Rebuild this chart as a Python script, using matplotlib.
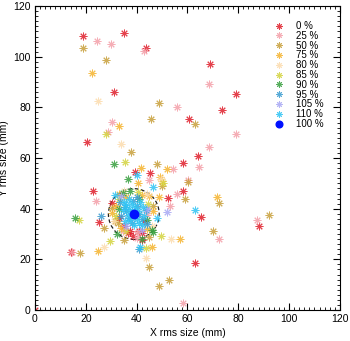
import matplotlib
matplotlib.use("Agg")
import matplotlib.pyplot as plt
from matplotlib.ticker import MultipleLocator
from matplotlib.patches import Circle

plt.rcParams['font.family'] = ['Liberation Sans', 'DejaVu Sans']

labels = ["0 %", "25 %", "50 %", "75 %", "80 %", "85 %", "90 %", "95 %", "105 %", "110 %"]
colors = ["#e0202c", "#f4a0aa", "#c8a03c", "#f5b430", "#fcdcae", "#d4d440",
          "#3aa040", "#3c9cd0", "#a8a8f4", "#30c4f4"]

x0 = [0, 19.0, 35.2, 43.6, 31.0, 69.0, 79.1, 73.7, 60.5, 20.5, 64.3, 58.4, 39.4, 45.3,
      58.4, 65.5, 88.2, 22.8, 25.2, 14.0, 30.2, 52.2, 36.7, 38.7, 63.0, 42.0, 37.4, 42.0,
      35.0, 41.0, 33.0, 43.0]
y0 = [0, 108.4, 109.4, 103.3, 86.2, 97.2, 85.3, 78.9, 75.5, 66.4, 61.0, 58.2, 54.5, 54.0,
      46.9, 36.6, 33.3, 46.8, 34.7, 22.9, 42.4, 44.1, 30.3, 29.2, 18.5, 30.3, 31.2, 27.7,
      33.0, 31.0, 36.5, 35.0]

x25 = [24.4, 29.9, 43.0, 68.4, 55.8, 79.1, 30.4, 28.9, 68.4, 64.4, 54.3, 60.4, 56.0, 53.1,
       87.5, 72.6, 24.1, 14.6, 58.1, 40.7, 45.0, 40.0, 34.5, 44.0]
y25 = [106.2, 104.9, 102.2, 89.1, 80.1, 69.4, 74.3, 70.1, 64.5, 56.6, 55.5, 51.4, 45.8, 41.2,
       35.6, 28.1, 43.2, 23.0, 2.9, 30.9, 51.4, 28.3, 31.0, 37.5]

x50 = [19.0, 28.1, 48.7, 62.9, 45.7, 37.8, 48.0, 60.1, 59.2, 72.4, 92.1, 70.1, 17.7, 27.3,
       32.8, 44.9, 48.8, 52.6, 30.4, 49.9, 46.5, 31.5, 45.0, 35.0]
y50 = [103.3, 98.9, 81.8, 73.6, 75.5, 62.2, 57.5, 50.6, 43.9, 42.2, 37.4, 31.1, 22.5, 32.3,
       34.3, 17.1, 9.5, 11.9, 40.2, 48.8, 41.0, 35.0, 29.0, 27.5]

x75 = [22.3, 32.9, 41.9, 51.8, 24.9, 30.4, 49.9, 48.9, 71.5, 57.0, 45.9, 40.7, 49.2, 33.0,
       45.0, 34.0, 44.0, 32.0, 46.5, 36.0, 42.0]
y75 = [93.5, 72.5, 56.0, 55.7, 23.3, 38.2, 51.1, 44.5, 44.5, 28.0, 25.0, 50.1, 52.7, 46.0,
       45.0, 32.5, 32.0, 41.0, 39.0, 44.5, 45.5]

x80 = [24.8, 34.0, 49.7, 27.0, 43.7, 53.6, 35.0, 44.0, 31.0, 46.0]
y80 = [82.5, 65.6, 51.8, 24.8, 20.7, 28.0, 47.0, 46.0, 35.0, 33.0]

x85 = [35.4, 28.0, 17.2, 29.6, 50.3, 49.5, 43.7, 33.0, 44.5, 36.0, 40.5, 32.0]
y85 = [58.6, 69.6, 35.6, 27.2, 50.1, 29.4, 24.4, 44.0, 42.0, 31.0, 46.5, 37.0]

x90 = [31.2, 36.5, 15.6, 32.4, 34.5, 46.3, 42.0, 44.0, 45.9, 33.0, 41.0, 37.5]
y90 = [57.6, 51.8, 36.5, 30.0, 46.1, 30.6, 27.9, 35.6, 31.6, 40.0, 44.0, 47.0]

x95 = [38.0, 39.5, 36.0, 41.0, 37.0, 40.0, 35.5, 42.0, 38.5, 38.0, 43.5, 34.0, 44.0, 33.5,
       25.8, 41.1, 40.0]
y95 = [39.0, 37.0, 39.0, 38.0, 36.5, 41.0, 40.5, 36.0, 43.0, 34.5, 39.5, 37.0, 34.0, 42.5,
       37.1, 24.1, 44.5]

x105 = [51.8, 42.0, 36.0, 44.0, 34.0]
y105 = [38.5, 31.5, 33.0, 40.0, 45.0]

x110 = [38.5, 37.0, 40.0, 36.0, 41.0, 35.0, 42.0, 39.5, 37.5, 36.5, 40.5, 34.5, 42.5, 38.0,
        39.0, 43.0, 35.5, 41.5, 37.0, 40.0, 31.6, 63.0, 47.9, 41.3, 46.6]
y110 = [38.0, 40.0, 36.0, 41.5, 34.5, 42.5, 33.5, 40.5, 35.5, 37.5, 39.0, 39.5, 40.5, 42.0,
        33.5, 37.0, 35.0, 42.5, 44.0, 53.4, 45.5, 39.5, 36.2, 25.0, 48.4]

xs = [x0, x25, x50, x75, x80, x85, x90, x95, x105, x110]
ys = [y0, y25, y50, y75, y80, y85, y90, y95, y105, y110]

# nominal (100 %) beam and its 10 mm circle
x100, y100 = 38.9, 37.9
r_circle = 10.0

fig = plt.figure(figsize=(3.5, 3.41), dpi=100)
ax = fig.add_axes([0.1, 0.091, 0.871, 0.891])

for xv, yv, c, lab in zip(xs, ys, colors, labels):
    ax.plot(xv, yv, linestyle='none', marker=(8, 2, 0), markersize=5.5,
            markeredgewidth=0.7, color=c, alpha=0.85, label=lab)
ax.plot([x100], [y100], linestyle='none', marker='o', markersize=6,
        color='#0010ff', label='100 %')
ax.add_patch(Circle((x100, y100), r_circle, fill=False, linestyle=(0, (3, 2)),
                    edgecolor='#222222', linewidth=0.9))

ax.set_xlim(0, 120)
ax.set_ylim(0, 120)
ax.xaxis.set_major_locator(MultipleLocator(20))
ax.yaxis.set_major_locator(MultipleLocator(20))
ax.xaxis.set_minor_locator(MultipleLocator(2))
ax.yaxis.set_minor_locator(MultipleLocator(2))
ax.tick_params(which='both', direction='in', top=True, right=True, labelsize=7.5, pad=3)
ax.tick_params(which='major', length=5, width=0.8)
ax.tick_params(which='minor', length=2.5, width=0.6)
ax.set_xlabel("X rms size (mm)", fontsize=7.5, labelpad=3)
ax.set_ylabel("Y rms size (mm)", fontsize=7.5)
ax.yaxis.set_label_coords(-0.085, 0.5)

ax.legend(loc='upper right', frameon=False, fontsize=7, handlelength=1.0,
          handletextpad=1.2, labelspacing=-0.02, markerscale=0.8,
          bbox_to_anchor=(0.975, 0.98))

fig.savefig("out.png", dpi=100)
